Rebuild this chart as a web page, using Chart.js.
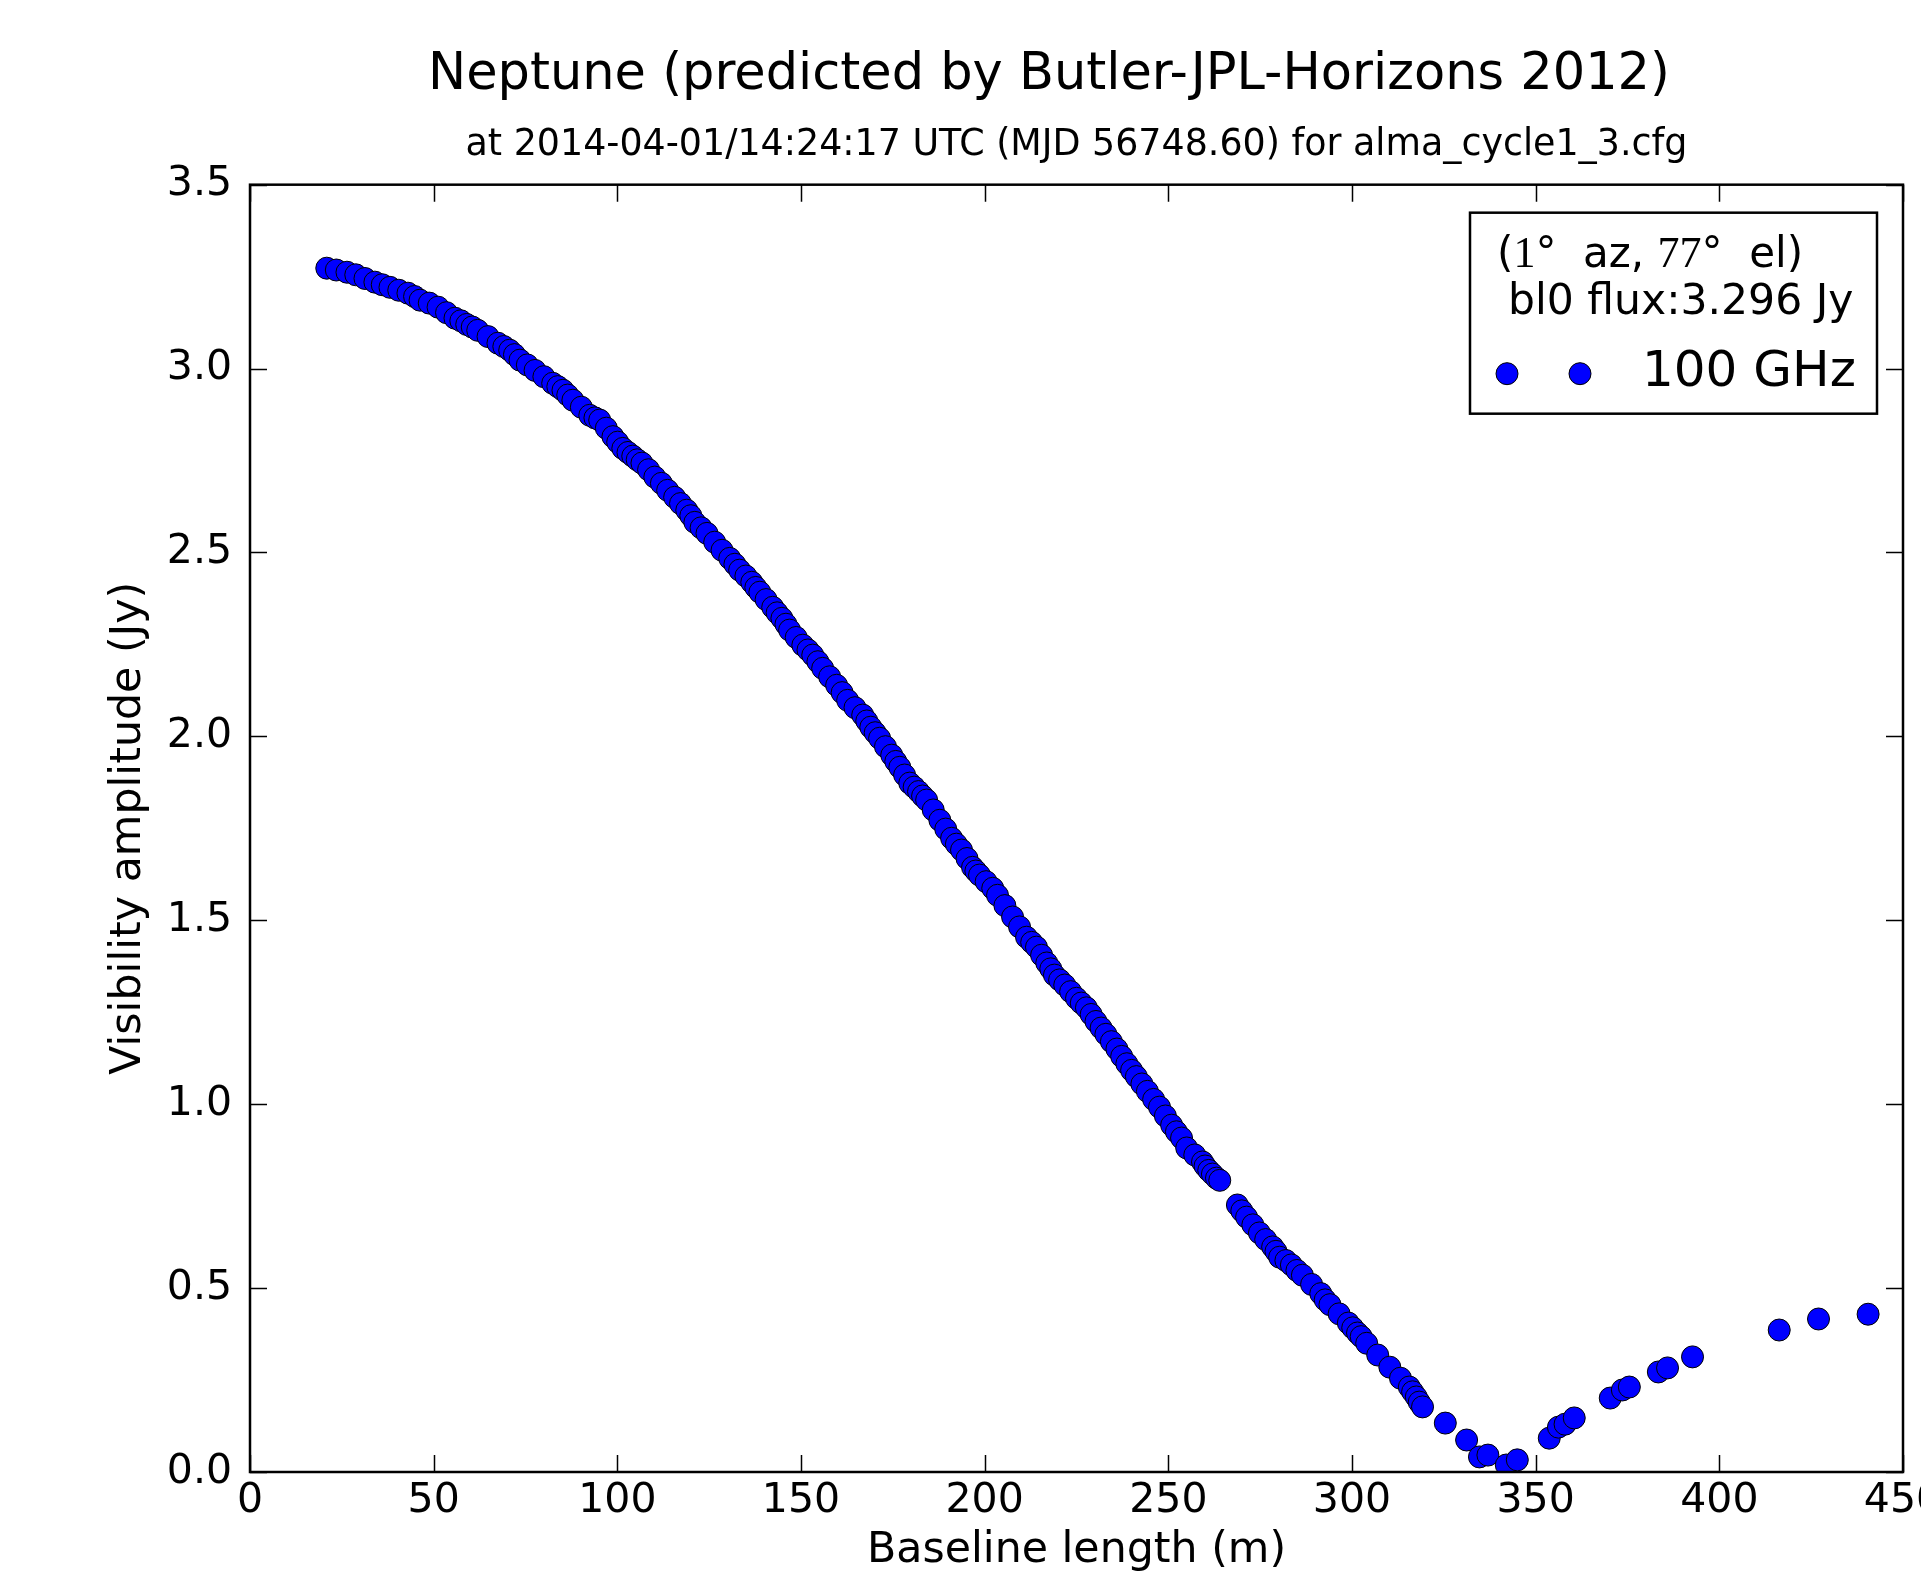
<!DOCTYPE html>
<html>
<head>
<meta charset="utf-8">
<title>Neptune visibility amplitude</title>
<script src="https://cdn.jsdelivr.net/npm/chart.js@4.4.1/dist/chart.umd.min.js"></script>
<style>
  html, body { margin: 0; padding: 0; background: #fff; overflow: hidden; }
</style>
</head>
<body>
<canvas id="vis-chart" width="1921" height="1577"></canvas>
<script>
// Neptune: visibility amplitude vs baseline length (ALMA cycle 1, 100 GHz)
const FONT = '"DejaVu Sans", "Bitstream Vera Sans", sans-serif';
const SERIF = '"Liberation Serif", "DejaVu Serif", serif';

const chartTitle = 'Neptune (predicted by Butler-JPL-Horizons 2012)';
const subTitle = 'at 2014-04-01/14:24:17 UTC (MJD 56748.60) for alma_cycle1_3.cfg';
const xTitle = 'Baseline length (m)';
const yTitle = 'Visibility amplitude (Jy)';
const seriesLabel = '100 GHz';
const fluxLine = 'bl0 flux:3.296 Jy';

const xTickValues = [0, 50, 100, 150, 200, 250, 300, 350, 400, 450];
const xTickLabels = ['0', '50', '100', '150', '200', '250', '300', '350', '400', '450'];
const yTickValues = [0, 0.5, 1, 1.5, 2, 2.5, 3, 3.5];
const yTickLabels = ['0.0', '0.5', '1.0', '1.5', '2.0', '2.5', '3.0', '3.5'];

// baseline length (m)
const baselineM = [
  20.9, 23.5, 26.4, 28.8, 31.3, 34.0, 36.0, 38.1, 40.5, 43.0,
  44.8, 46.3, 48.8, 51.2, 53.5, 55.8, 57.4, 59.0, 60.5, 62.0,
  64.8, 67.5, 69.1, 70.7, 72.0, 73.5, 75.5, 77.6, 80.0, 82.4,
  83.8, 85.2, 86.5, 87.9, 90.2, 92.5, 93.9, 95.2, 97.0, 98.8,
  100.1, 101.5, 102.9, 104.2, 105.4, 106.7, 108.5, 110.2, 112.0, 113.7,
  115.6, 117.2, 118.9, 120.0, 121.1, 122.8, 124.4, 126.5, 128.5, 130.6,
  132.0, 133.3, 135.0, 136.6, 137.7, 138.8, 140.5, 142.3, 143.5, 144.8,
  145.9, 146.9, 148.7, 150.5, 151.9, 153.2, 154.6, 155.9, 157.8, 159.7,
  161.2, 162.7, 164.7, 166.8, 167.9, 169.0, 170.2, 171.4, 173.0, 174.7,
  175.8, 176.9, 178.2, 179.6, 180.8, 182.0, 183.1, 184.2, 186.0, 187.8,
  189.4, 191.0, 192.3, 193.7, 195.2, 196.7, 197.6, 198.6, 200.4, 202.2,
  203.5, 205.5, 207.6, 209.5, 211.4, 212.8, 214.1, 215.5, 216.9, 218.0,
  219.0, 220.4, 221.8, 223.4, 225.0, 226.3, 227.7, 229.0, 230.3, 231.7,
  233.0, 234.5, 236.0, 237.3, 238.7, 240.0, 241.3, 242.8, 244.3, 246.0,
  247.6, 249.2, 250.9, 252.2, 253.6, 255.0, 257.2, 259.3, 260.0, 261.0,
  262.0, 263.1, 264.0, 268.8, 270.0, 271.3, 273.0, 274.8, 276.5, 278.4,
  279.3, 280.3, 282.0, 283.5, 285.0, 286.5, 289.0, 291.5, 292.7, 294.0,
  296.5, 299.0, 300.2, 301.5, 302.5, 304.0, 307.0, 310.3, 313.2, 315.6,
  316.5, 317.5, 318.3, 319.2, 325.4, 331.2, 334.7, 337.0, 342.0, 345.0,
  353.7, 356.2, 358.0, 360.5, 370.3, 373.6, 375.5, 383.4, 385.9, 392.7,
  416.3, 427.0, 440.5
];

// visibility amplitude (Jy), same order
const amplitudeJy = [
  3.273, 3.268, 3.262, 3.255, 3.245, 3.235, 3.228, 3.221, 3.213, 3.205,
  3.196, 3.186, 3.178, 3.167, 3.152, 3.137, 3.130, 3.120, 3.113, 3.104,
  3.087, 3.069, 3.060, 3.050, 3.038, 3.023, 3.010, 2.995, 2.978, 2.960,
  2.951, 2.941, 2.928, 2.914, 2.895, 2.873, 2.866, 2.860, 2.838, 2.815,
  2.800, 2.783, 2.772, 2.762, 2.752, 2.743, 2.725, 2.705, 2.688, 2.669,
  2.650, 2.633, 2.615, 2.600, 2.582, 2.567, 2.552, 2.528, 2.506, 2.484,
  2.468, 2.452, 2.436, 2.419, 2.405, 2.392, 2.372, 2.351, 2.336, 2.321,
  2.305, 2.289, 2.269, 2.248, 2.235, 2.221, 2.203, 2.185, 2.162, 2.139,
  2.119, 2.098, 2.078, 2.058, 2.042, 2.025, 2.010, 1.995, 1.972, 1.949,
  1.932, 1.916, 1.895, 1.873, 1.862, 1.850, 1.838, 1.827, 1.800, 1.772,
  1.748, 1.723, 1.707, 1.691, 1.668, 1.644, 1.634, 1.623, 1.605, 1.587,
  1.568, 1.540, 1.509, 1.482, 1.454, 1.440, 1.427, 1.405, 1.384, 1.368,
  1.351, 1.338, 1.324, 1.306, 1.288, 1.275, 1.262, 1.244, 1.225, 1.207,
  1.190, 1.170, 1.150, 1.130, 1.110, 1.092, 1.075, 1.055, 1.035, 1.013,
  0.992, 0.968, 0.943, 0.925, 0.908, 0.881, 0.862, 0.843, 0.832, 0.820,
  0.810, 0.799, 0.793, 0.726, 0.710, 0.693, 0.672, 0.650, 0.632, 0.612,
  0.600, 0.584, 0.575, 0.563, 0.548, 0.535, 0.510, 0.485, 0.468, 0.455,
  0.430, 0.405, 0.392, 0.378, 0.368, 0.350, 0.318, 0.285, 0.255, 0.231,
  0.218, 0.204, 0.190, 0.177, 0.133, 0.087, 0.041, 0.046, 0.019, 0.033,
  0.092, 0.122, 0.130, 0.147, 0.201, 0.223, 0.231, 0.272, 0.283, 0.313,
  0.386, 0.416, 0.429
];

// frame on all four sides with inward ticks, matplotlib style
const axesFrame = {
  id: 'axesFrame',
  afterDatasetsDraw(chart) {
    const { ctx, chartArea: a, scales: { x, y } } = chart;
    const len = 17;
    ctx.save();
    ctx.strokeStyle = '#000';
    ctx.lineWidth = 1.5;
    ctx.beginPath();
    xTickValues.forEach(v => {
      const px = Math.round(x.getPixelForValue(v)) + 0.5;
      ctx.moveTo(px, a.bottom); ctx.lineTo(px, a.bottom - len);
      ctx.moveTo(px, a.top); ctx.lineTo(px, a.top + len);
    });
    yTickValues.forEach(v => {
      const py = Math.round(y.getPixelForValue(v)) + 0.5;
      ctx.moveTo(a.left, py); ctx.lineTo(a.left + len, py);
      ctx.moveTo(a.right, py); ctx.lineTo(a.right - len, py);
    });
    ctx.stroke();
    ctx.lineWidth = 2.5;
    ctx.strokeRect(a.left, a.top, a.right - a.left, a.bottom - a.top);
    ctx.restore();
  }
};

// figure title, centred on the (cropped) figure rather than the axes
const figureTitle = {
  id: 'figureTitle',
  afterDraw(chart) {
    const ctx = chart.ctx;
    ctx.save();
    ctx.fillStyle = '#000';
    ctx.font = '51px ' + FONT;
    ctx.textAlign = 'center';
    ctx.textBaseline = 'middle';
    ctx.fillText(chartTitle, 1049, 76);
    ctx.restore();
  }
};

// boxed legend: position line, flux line, two markers + label
const freqLegend = {
  id: 'freqLegend',
  afterDraw(chart) {
    const { ctx, chartArea: a } = chart;
    const ds = chart.data.datasets[0];
    const w = 407, h = 201;
    const bx = a.right - 26 - w, by = a.top + 28;
    ctx.save();
    ctx.fillStyle = '#fff';
    ctx.fillRect(bx, by, w, h);
    ctx.strokeStyle = '#000';
    ctx.lineWidth = 2.5;
    ctx.strokeRect(bx, by, w, h);

    ctx.fillStyle = '#000';
    ctx.textBaseline = 'middle';
    ctx.textAlign = 'left';
    // (1° az, 77° el) with mathtext-like serif numbers
    const parts = [
      ['(', FONT], ['1', SERIF], ['\u00b0  az, ', FONT], ['77', SERIF], ['\u00b0  el)', FONT]
    ];
    let tx = bx + 27;
    parts.forEach(([t, f]) => {
      ctx.font = (f === SERIF ? '44px ' : '42px ') + f;
      ctx.fillText(t, tx, by + 43);
      tx += ctx.measureText(t).width;
    });
    ctx.font = '42.5px ' + FONT;
    ctx.fillText(fluxLine, bx + 38, by + 90);

    ctx.fillStyle = ds.backgroundColor;
    ctx.strokeStyle = ds.borderColor;
    ctx.lineWidth = ds.borderWidth;
    [bx + 37, bx + 110].forEach(cx => {
      ctx.beginPath();
      ctx.arc(cx, by + 161, ds.pointRadius, 0, Math.PI * 2);
      ctx.fill();
      ctx.stroke();
    });
    ctx.fillStyle = '#000';
    ctx.font = '50px ' + FONT;
    ctx.fillText(seriesLabel, bx + 172, by + 160);
    ctx.restore();
  }
};

const tickFont = { family: FONT, size: 41 };
const labelFont = { family: FONT, size: 42.7 };

new Chart(document.getElementById('vis-chart'), {
  type: 'scatter',
  data: {
    datasets: [{
      label: seriesLabel,
      data: baselineM.map((b, i) => ({ x: b, y: amplitudeJy[i] })),
      backgroundColor: '#0000ff',
      borderColor: '#000000',
      borderWidth: 1,
      pointRadius: 11,
      pointHoverRadius: 11,
      clip: 0
    }]
  },
  options: {
    responsive: false,
    animation: false,
    events: [],
    layout: { padding: { top: 104, right: 18, bottom: 0, left: 0 } },
    plugins: {
      legend: { display: false },
      tooltip: { enabled: false },
      title: { display: false },
      subtitle: {
        display: true,
        text: subTitle,
        fullSize: false,
        color: '#000',
        font: { family: FONT, size: 36.4, weight: 'normal' },
        padding: { top: 20, bottom: 17 }
      }
    },
    scales: {
      x: {
        type: 'linear',
        min: 0,
        max: 450,
        afterBuildTicks: s => { s.ticks = xTickValues.map(v => ({ value: v })); },
        afterFit: s => { s.height = 105; s.paddingLeft = 0; s.paddingRight = 0; },
        grid: { display: false, drawTicks: false },
        border: { display: false },
        ticks: {
          color: '#000',
          font: tickFont,
          padding: 5,
          maxRotation: 0,
          autoSkip: false,
          callback: (v, i) => xTickLabels[i]
        },
        title: { display: true, text: xTitle, color: '#000', font: labelFont, padding: { top: 0, bottom: 0 } }
      },
      y: {
        type: 'linear',
        min: 0,
        max: 3.5,
        afterBuildTicks: s => { s.ticks = yTickValues.map(v => ({ value: v })); },
        afterFit: s => { s.width = 250; },
        grid: { display: false, drawTicks: false },
        border: { display: false },
        ticks: {
          color: '#000',
          font: tickFont,
          padding: 18,
          autoSkip: false,
          callback: (v, i) => yTickLabels[i]
        },
        title: { display: true, text: yTitle, color: '#000', font: labelFont, padding: { top: 103, bottom: 0 } }
      }
    }
  },
  plugins: [axesFrame, figureTitle, freqLegend]
});
</script>
</body>
</html>
